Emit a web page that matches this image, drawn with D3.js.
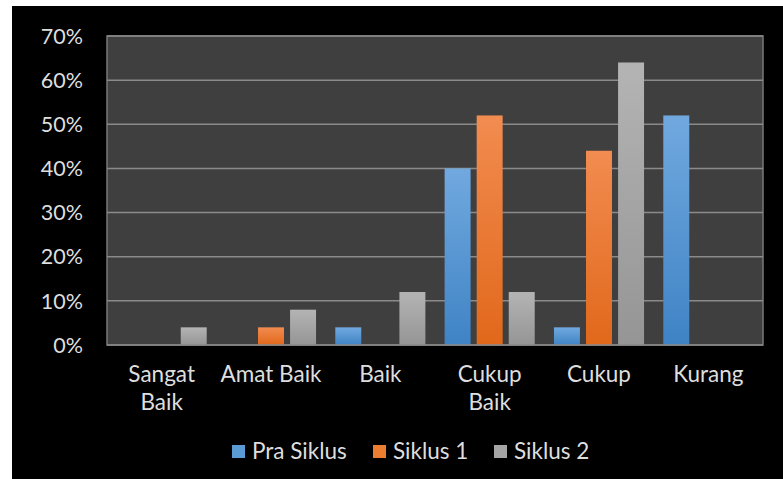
<!DOCTYPE html>
<meta charset="utf-8">
<style>
    body { margin: 0; background: #fff; }
    text { font-family: Lato, "Open Sans", sans-serif; fill: #dedede; }
</style>
<body>
<svg width="783" height="479"></svg>
</body>
<script src="https://cdnjs.cloudflare.com/ajax/libs/d3/7.8.5/d3.min.js"></script>
<script>
    const categories = [["Sangat", "Baik"], ["Amat Baik"], ["Baik"], ["Cukup", "Baik"], ["Cukup"], ["Kurang"]];
    const seriesNames = ["Pra Siklus", "Siklus 1", "Siklus 2"];
    const praSiklus = [0, 0, 4, 40, 4, 52];
    const siklus1 = [0, 4, 0, 52, 44, 0];
    const siklus2 = [4, 8, 12, 12, 64, 0];
    const yTicks = [0, 10, 20, 30, 40, 50, 60, 70];

    const svg = d3.select("svg");
    const margin = {left: 107, top: 36, right: 763, bottom: 345};

    // black chart frame
    svg.append("rect").attr("x", 12).attr("y", 6).attr("width", 771).attr("height", 473).attr("fill", "#000");

    const defs = svg.append("defs");
    const grads = [["gBlue", "#71a9df", "#3f83c5"], ["gOrange", "#f28c50", "#e1681b"], ["gGray", "#b4b4b4", "#959595"]];
    grads.forEach(g => {
        const lg = defs.append("linearGradient").attr("id", g[0]).attr("x1", 0).attr("y1", 0).attr("x2", 0).attr("y2", 1);
        lg.append("stop").attr("offset", "0%").attr("stop-color", g[1]);
        lg.append("stop").attr("offset", "100%").attr("stop-color", g[2]);
    });
    const fills = ["url(#gBlue)", "url(#gOrange)", "url(#gGray)"];
    const legendFills = ["#5b9bd5", "#ed7d31", "#a5a5a5"];

    const x = d3.scaleBand().domain(d3.range(categories.length)).range([margin.left, margin.right]);
    const x1 = d3.scaleBand().domain(d3.range(3)).range([0, x.bandwidth()]).paddingInner(0.19).paddingOuter(0.3);
    const y = d3.scaleLinear().domain([0, 70]).range([margin.bottom, margin.top]);

    // plot area
    svg.append("rect")
        .attr("x", margin.left).attr("y", margin.top)
        .attr("width", margin.right - margin.left).attr("height", margin.bottom - margin.top)
        .attr("fill", "#3f3f3f").attr("stroke", "#7a7a7a").attr("stroke-width", 1.5);

    svg.append("g").selectAll("line")
        .data(yTicks.slice(1))
        .join("line")
        .attr("x1", margin.left).attr("x2", margin.right)
        .attr("y1", d => y(d)).attr("y2", d => y(d))
        .attr("stroke", "#8a8a8a").attr("stroke-width", 1.5);

    svg.append("g").selectAll("text")
        .data(yTicks)
        .join("text")
        .attr("x", 83).attr("y", d => y(d))
        .attr("dy", "0.36em")
        .attr("text-anchor", "end")
        .attr("font-size", 21.5)
        .text(d => d + "%");

    const series = [praSiklus, siklus1, siklus2];
    series.forEach((vals, s) => {
        svg.append("g").selectAll("rect")
            .data(vals)
            .join("rect")
            .attr("x", (d, i) => x(i) + x1(s))
            .attr("width", x1.bandwidth())
            .attr("y", d => y(d))
            .attr("height", d => y(0) - y(d))
            .attr("fill", fills[s]);
    });

    // bottom axis line
    svg.append("line")
        .attr("x1", margin.left).attr("x2", margin.right)
        .attr("y1", margin.bottom).attr("y2", margin.bottom)
        .attr("stroke", "#8a8a8a").attr("stroke-width", 1.5);

    const cat = svg.append("g").selectAll("text")
        .data(categories)
        .join("text")
        .attr("x", (d, i) => x(i) + x.bandwidth() / 2)
        .attr("y", 382)
        .attr("text-anchor", "middle")
        .attr("font-size", 22.5);
    cat.selectAll("tspan")
        .data(d => d)
        .join("tspan")
        .attr("x", function () { return this.parentNode.getAttribute("x"); })
        .attr("dy", (d, i) => i === 0 ? 0 : 28)
        .text(d => d);

    // legend
    const legendX = [232, 373, 494];
    const leg = svg.append("g").selectAll("g")
        .data(seriesNames)
        .join("g")
        .attr("transform", (d, i) => `translate(${legendX[i]},445)`);
    leg.append("rect").attr("width", 13).attr("height", 13).attr("fill", (d, i) => legendFills[i]);
    leg.append("text").attr("x", 20).attr("y", 14).attr("font-size", 22.5).text(d => d);
</script>
